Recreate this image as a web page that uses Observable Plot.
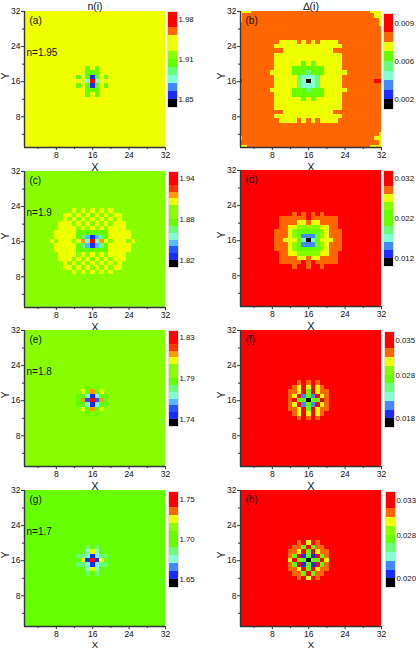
<!DOCTYPE html>
<html>
<head>
<meta charset="utf-8">
<script src="https://cdn.jsdelivr.net/npm/d3@7"></script>
<script src="https://cdn.jsdelivr.net/npm/@observablehq/plot@0.6"></script>
<style>
html,body{margin:0;padding:0;background:#fff}
#page{position:relative;width:416px;height:648px;overflow:hidden;font-family:"Liberation Sans",Arial,sans-serif}
#page svg{position:absolute;overflow:visible;background:transparent}
</style>
</head>
<body>
<div id="page"></div>
<script>
// colour levels
const levelKeys = ["k","b","B","s","l","c","m","g","h","y","o","O","R","r"];
const levelColors = ["#000000","#1a2bff","#2255ff","#4488ff","#55bbff","#80ffd5","#66ff77","#66ff00","#88ff00","#eeff00","#ff9900","#ff6600","#ff3300","#ff0000"];
const axisTicks = [8,16,24,32];
const minorTicks = [4,12,20,28];

// heat-map levels around the centre site (16,16); "." is the panel background
const patchA = ["..g.g..","..ggg..","g.gbg.g","..crc..","g.gbg.g","..ggg..","..g.g.."];
const patchB = [
"..yyyy.y.y.yyyy..",
".yyyyyyyyyyyyyyy.",
"...yyyyyyyyyyy...",
".yyyyyyyyyyyyyyy.",
".yyyyyyyyyyyyyyy.",
".yyyyyygygyyyyyy.",
".yyyygggggggyyyy.",
"yyyyygggmgggyyyyy",
".yyyyymcccmyyyyy.",
".yyyyymckcmyyyyy.",
".yyyyymcccmyyyyy.",
"yyyyygggmgggyyyyy",
".yyyygggggggyyyy.",
".yyyyyygygyyyyyy.",
".yyyyyyyyyyyyyyy.",
".yyyyyyyyyyyyyyy.",
"...yyyyyyyyyyy...",
".yyyyyyyyyyyyyyy.",
"..yyyy.y.y.yyyy.."];
const edgeCellsB = [[1,32,"y"],[2,32,"y"],[3,32,"y"],[1,31,"y"],[1,30,"y"],[30,32,"y"],[31,32,"y"],[32,32,"y"],[31,31,"y"],[32,31,"y"],[32,30,"y"],[32,29,"y"],[1,3,"y"],[1,1,"y"],[2,1,"y"],[32,4,"y"],[32,3,"y"],[31,3,"y"],[32,2,"y"],[30,1,"y"],[31,1,"y"],[32,1,"y"],[1,16,"r"],[31,16,"r"],[32,16,"r"]];
const patchC = [
".....y.y.y.y.y.....",
"...yy.y.y.y.y.yy...",
"...y.y.y.y.y.y.y...",
"..yyy.y.y.y.y.yyy..",
"..yyyy.y.y.y.yyyy..",
".yyyyygggggggyyyyy.",
".yyyyygmlblmgyyyyy.",
"y.yyy.yocrcoy.yyy.y",
".yyyyygmlblmgyyyyy.",
".yyyyygggggggyyyyy.",
"..yyyy.y.y.y.yyyy..",
"..yyy.y.y.y.y.yyy..",
"...y.y.y.y.y.y.y...",
"...yy.y.y.y.y.yy...",
".....y.y.y.y.y....."];
const patchD = [
"....O.O.O.O....",
".OOOOOO.OOOOOO.",
".OOOOyyOyyOOOO.",
".OOyyhhhhhyyOO.",
"OOOyhggggghyOOO",
"OOOyhgsssghyOOO",
"OOyyygckcgyyyOO",
"OOOyhgsssghyOOO",
"OOOyhggggghyOOO",
".OOyyhhhhhyyOO.",
".OOOOyyOyyOOOO.",
".OOOOO.O.OOOOO.",
"....O..O..O...."];
const patchE = ["..g.g..",".ygogy.","ggcbcgg","goBrBog","ggcbcgg",".ygogy.","..g.g.."];
const patchF = ["..O.O.O..",".OyryryO.","OOyrgryOO","OyrsgsryO","OrggkggrO","OyrsgsryO","OOyrgryOO",".OyryryO.","..O.O.O.."];
const patchG = ["..m.m..","..cyc..","mmcbcmm",".ybrby.","mmcbcmm","..cyc..","..m.m.."];
const patchH = ["..O.y.O..",".OOgrgOO.","OOyrgryOO","OgrbgbrgO","yrggkggry","OgrbgbrgO","OOyrgryOO",".OOgrgOO.","..O.y.O.."];

// colour bars, bottom level first, and their labelled levels
const barA = "kbscmghyyOrr", barB = "kbscmgyOrr", barC = "kbBlcmghhyoRrr", barD = "kbscmgghyOrr";
const barE = "kbBlcmghhyoRrr", barF = "kbscmghyOrr", barG = "kbscmgghyOrr", barH = "kbscmghyOrr";
const barLevelsA = [1,6,11],  barTextA = ["1.85","1.91","1.98"];
const barLevelsB = [1,5,9],   barTextB = ["0.002","0.006","0.009"];
const barLevelsC = [1,7,13],  barTextC = ["1.82","1.88","1.94"];
const barLevelsD = [1,6,11],  barTextD = ["0.012","0.022","0.032"];
const barLevelsE = [1,7,13],  barTextE = ["1.74","1.79","1.83"];
const barLevelsF = [1,6,10],  barTextF = ["0.018","0.028","0.035"];
const barLevelsG = [1,6,11],  barTextG = ["1.65","1.70","1.75"];
const barLevelsH = [1,6,10],  barTextH = ["0.020","0.028","0.033"];

const panels = [
 {tag:"(a)",n:"n=1.95",title:"n(i)",bg:"y",patch:patchA,bar:barA,lv:barLevelsA,tx:barTextA,left:0,top:11,barLeft:167,barTop:11,xOff:23,xSize:11},
 {tag:"(b)",title:"\u2206(i)",bg:"O",patch:patchB,extra:edgeCellsB,bar:barB,lv:barLevelsB,tx:barTextB,left:216,top:11,barLeft:383,barTop:13,xOff:23,xSize:11},
 {tag:"(c)",n:"n=1.9",bg:"h",patch:patchC,bar:barC,lv:barLevelsC,tx:barTextC,left:0,top:171,barLeft:168,barTop:171,xOff:23,xSize:11},
 {tag:"(d)",bg:"r",patch:patchD,bar:barD,lv:barLevelsD,tx:barTextD,left:216,top:170,barLeft:383,barTop:170,xOff:23,xSize:11},
 {tag:"(e)",n:"n=1.8",bg:"h",patch:patchE,bar:barE,lv:barLevelsE,tx:barTextE,left:0,top:330,barLeft:168,barTop:330,xOff:23,xSize:11},
 {tag:"(f)",bg:"r",patch:patchF,bar:barF,lv:barLevelsF,tx:barTextF,left:216,top:330,barLeft:384,barTop:331,xOff:23,xSize:11},
 {tag:"(g)",n:"n=1.7",bg:"g",patch:patchG,bar:barG,lv:barLevelsG,tx:barTextG,left:0,top:490,barLeft:168,barTop:491,xOff:21,xSize:9.5},
 {tag:"(h)",bg:"r",patch:patchH,bar:barH,lv:barLevelsH,tx:barTextH,left:216,top:490,barLeft:385,barTop:491,xOff:21,xSize:9.5}
];

const colorScale = {domain:levelKeys, range:levelColors};
const ink = "#111";

function cellsOf(p){
  const m = new Map();
  for(let x=1;x<=32;x++) for(let y=1;y<=32;y++) m.set(x+"|"+y,{x,y,k:p.bg});
  const h=p.patch.length, w=p.patch[0].length, rt=(h-1)/2, ct=(w-1)/2;
  p.patch.forEach((row,i)=>{[...row].forEach((ch,j)=>{
    if(ch!==".") m.get((16-ct+j)+"|"+(16+rt-i)).k=ch;
  });});
  (p.extra||[]).forEach(([x,y,k])=>{m.get(x+"|"+y).k=k;});
  return [...m.values()];
}

const page=document.getElementById("page");
const place=(el,l,t)=>{el.style.left=l+"px";el.style.top=t+"px";page.appendChild(el);};

for(const p of panels){
  const marks=[
    Plot.rect(cellsOf(p),{x1:d=>d.x-.5,x2:d=>d.x+.5,y1:d=>d.y-.5,y2:d=>d.y+.5,fill:"k",clip:true,shapeRendering:"crispEdges"}),
    Plot.ruleX([1],{stroke:"#333",strokeWidth:1.4}),
    Plot.ruleY([1],{stroke:"#333",strokeWidth:1.4}),
    Plot.axisX({ticks:minorTicks,tickSize:2,tickFormat:()=>"",label:null,stroke:"#333"}),
    Plot.axisY({ticks:minorTicks,tickSize:2,tickFormat:()=>"",label:null,stroke:"#333"}),
    Plot.axisX({ticks:axisTicks,tickSize:3,tickPadding:1,fontSize:8.5,stroke:"#333",fill:ink,label:null}),
    Plot.axisY({ticks:axisTicks,tickSize:3,tickPadding:1,fontSize:8.5,stroke:"#333",fill:ink,label:null}),
    Plot.text(["X"],{frameAnchor:"bottom",dy:p.xOff,fontSize:p.xSize,fill:ink,text:d=>d}),
    Plot.text(["Y"],{frameAnchor:"left",dx:-19,rotate:-90,fontSize:10.5,fill:ink,text:d=>d}),
    Plot.text([p.tag],{frameAnchor:"top-left",dx:5,dy:5,fontSize:10,fill:ink,text:d=>d})
  ];
  if(p.n) marks.push(Plot.text([p.n],{frameAnchor:"top-left",dx:2,dy:37,fontSize:10,fill:ink,text:d=>d}));
  if(p.title) marks.push(Plot.text([p.title],{frameAnchor:"top",dy:-9,fontSize:10.5,fill:ink,text:d=>d}));
  const chart=Plot.plot({
    width:166,height:172,marginLeft:24,marginRight:1,marginTop:12,marginBottom:24,
    x:{domain:[1,32]},y:{domain:[1,32]},color:colorScale,
    style:{fontFamily:'"Liberation Sans",Arial,sans-serif',overflow:"visible",background:"transparent"},
    marks
  });
  place(chart,p.left,p.top-12);

  const levels=[...p.bar].map((k,i)=>({i,k}));
  const bar=Plot.plot({
    width:40,height:96,marginLeft:0,marginRight:30,marginTop:0,marginBottom:0,
    x:{domain:[0,1],axis:null},y:{domain:[0,levels.length]},color:colorScale,
    style:{fontFamily:'"Liberation Sans",Arial,sans-serif',overflow:"visible",background:"transparent"},
    marks:[
      Plot.rect(levels,{x1:()=>0,x2:()=>1,y1:d=>d.i,y2:d=>d.i+1,fill:"k",shapeRendering:"crispEdges"}),
      Plot.axisY({anchor:"right",ticks:p.lv,tickSize:0,tickPadding:1,fontSize:7.8,fill:ink,label:null,tickFormat:d=>p.tx[p.lv.indexOf(d)]}),
      Plot.frame({stroke:"#e8dede",strokeWidth:1})
    ]
  });
  place(bar,p.barLeft,p.barTop);
}
</script>
</body>
</html>
